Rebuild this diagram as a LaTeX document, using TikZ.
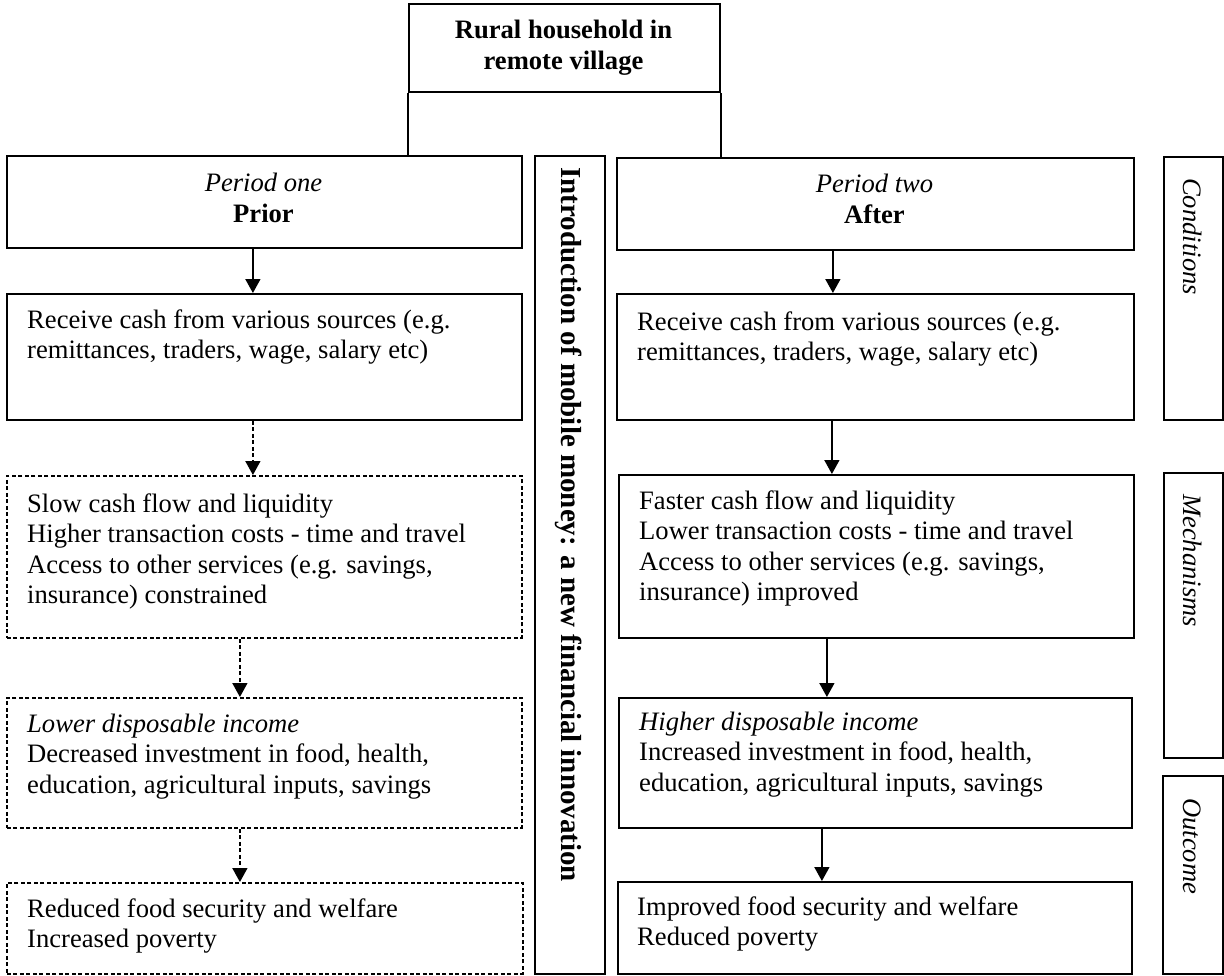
\documentclass[tikz,border=0pt]{standalone}
\usepackage{fontspec}
\setmainfont{Liberation Serif}
\usetikzlibrary{arrows.meta}
\tikzset{
  box/.style={draw, line width=1.8pt, inner sep=0pt, anchor=north west},
  dbox/.style={box, dash pattern=on 4pt off 2.5pt},
  txt/.style={inner sep=0pt, anchor=north west, align=left, font=\fontsize{26.6}{30.5}\selectfont},
  ctxt/.style={inner sep=0pt, anchor=north, align=center, font=\fontsize{26.6}{31}\selectfont},
  side/.style={inner sep=0pt, anchor=west, rotate=-90, font=\itshape\fontsize{26.6}{31}\selectfont},
  arr/.style={line width=1.6pt, -{Triangle[width=15pt,length=14pt]}},
  darr/.style={arr, dash pattern=on 4pt off 2.5pt},
  link/.style={line width=1.8pt}
}
\begin{document}
\begin{tikzpicture}[x=1pt,y=-1pt]
\useasboundingbox (0,0) rectangle (1224,975);
% boxes
\node[box, minimum width=311pt, minimum height=88pt] (top) at (408,3) {};
\node[box, minimum width=515pt, minimum height=92pt] (P1) at (6,155) {};
\node[box, minimum width=70pt, minimum height=818pt] (ban) at (534,155) {};
\node[box, minimum width=517pt, minimum height=92pt] (P2) at (616,157) {};
\node[box, minimum width=59pt, minimum height=263pt] (cond) at (1163,156) {};
\node[box, minimum width=59pt, minimum height=285pt] (mech) at (1163,472) {};
\node[box, minimum width=60pt, minimum height=198pt] (outc) at (1162,775) {};
\node[box, minimum width=515pt, minimum height=126pt] (L1) at (6,293) {};
\node[dbox, minimum width=515pt, minimum height=162pt] (L2) at (6,475) {};
\node[dbox, minimum width=515pt, minimum height=130pt] (L3) at (6,697) {};
\node[dbox, minimum width=516pt, minimum height=91pt] (L4) at (6,882) {};
\node[box, minimum width=517pt, minimum height=126pt] (R1) at (616,293) {};
\node[box, minimum width=515pt, minimum height=163pt] (R2) at (618,474) {};
\node[box, minimum width=513pt, minimum height=130pt] (R3) at (618,697) {};
\node[box, minimum width=514pt, minimum height=92pt] (R4) at (617,881) {};
% texts
\node[ctxt, font=\bfseries\fontsize{26.6}{31}\selectfont] (ttop) at (563.5,16.65) {\strut Rural household in\\remote village};
\node[ctxt] (tP1) at (263.5,169.65) {\strut\textit{Period one}\\\textbf{Prior}};
\node[ctxt] (tP2) at (874.5,171) {\strut\textit{Period two}\\\textbf{After}};
\node[inner sep=0pt, anchor=west, rotate=-90, font=\bfseries\fontsize{29}{34}\selectfont] (tban) at (569,167) {Introduction of mobile money: a new financial innovation};
\node[side] (tcond) at (1192.5,178) {Conditions};
\node[side] (tmech) at (1192.5,494) {Mechanisms};
\node[side] (toutc) at (1192,798) {Outcome};
\node[txt] (tL1) at (27,306.65) {\strut Receive cash from various sources (e.g.\\remittances, traders, wage, salary etc)};
\node[txt] (tL2) at (27,490.65) {\strut Slow cash flow and liquidity\\Higher transaction costs - time and travel\\Access to other services (e.g. savings,\\insurance) constrained};
\node[txt] (tL3) at (27,710.65) {\strut\textit{Lower disposable income}\\Decreased investment in food, health,\\education, agricultural inputs, savings};
\node[txt] (tL4) at (27,895.65) {\strut Reduced food security and welfare\\Increased poverty};
\node[txt] (tR1) at (637,308.65) {\strut Receive cash from various sources (e.g.\\remittances, traders, wage, salary etc)};
\node[txt] (tR2) at (639,487.65) {\strut Faster cash flow and liquidity\\Lower transaction costs - time and travel\\Access to other services (e.g. savings,\\insurance) improved};
\node[txt] (tR3) at (639,708.65) {\strut\textit{Higher disposable income}\\Increased investment in food, health,\\education, agricultural inputs, savings};
\node[txt] (tR4) at (637,893.65) {\strut Improved food security and welfare\\Reduced poverty};
% links from top box
\draw[link] (top.south west) -- (top.south west |- P1.north);
\draw[link] (top.south east) -- (top.south east |- P2.north);
% arrows
\draw[arr] ([xshift=-11.5pt]P1.south) -- ([xshift=-11.5pt]L1.north);
\draw[darr] ([xshift=-11.5pt]L1.south) -- ([xshift=-11.5pt]L2.north);
\draw[darr] ([xshift=-24.5pt]L2.south) -- ([xshift=-24.5pt]L3.north);
\draw[darr] ([xshift=-24.5pt]L3.south) -- ([xshift=-25pt]L4.north);
\draw[arr] ([xshift=-42.5pt]P2.south) -- ([xshift=-42.5pt]R1.north);
\draw[arr] ([xshift=-43.5pt]R1.south) -- ([xshift=-44.5pt]R2.north);
\draw[arr] ([xshift=-49.5pt]R2.south) -- ([xshift=-48.5pt]R3.north);
\draw[arr] ([xshift=-53.5pt]R3.south) -- ([xshift=-53pt]R4.north);
\end{tikzpicture}
\end{document}
